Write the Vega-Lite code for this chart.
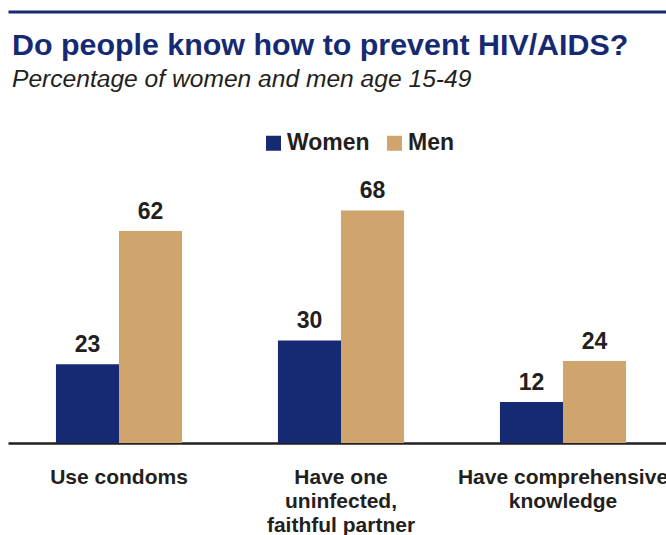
{
  "$schema": "https://vega.github.io/schema/vega-lite/v6.json",
  "autosize": "none",
  "padding": {"left": 8, "top": 11.5, "right": 0, "bottom": 92},
  "width": 666,
  "height": 431.5,
  "background": "white",
  "title": {
    "text": "Do people know how to prevent HIV/AIDS?",
    "subtitle": "Percentage of women and men age 15-49",
    "anchor": "start",
    "frame": "group",
    "orient": "top",
    "offset": -80,
    "dx": 4,
    "font": "Liberation Sans",
    "fontSize": 30.4,
    "fontWeight": "bold",
    "color": "#162a74",
    "subtitleFont": "Liberation Sans",
    "subtitleFontSize": 24.6,
    "subtitleFontStyle": "italic",
    "subtitleColor": "#231f20",
    "subtitlePadding": 7
  },
  "data": {
    "values": [
      {"category": "Use condoms", "sex": "Women", "value": 23},
      {"category": "Use condoms", "sex": "Men", "value": 62},
      {"category": "Have one|uninfected,|faithful partner", "sex": "Women", "value": 30},
      {"category": "Have one|uninfected,|faithful partner", "sex": "Men", "value": 68},
      {"category": "Have comprehensive|knowledge", "sex": "Women", "value": 12},
      {"category": "Have comprehensive|knowledge", "sex": "Men", "value": 24}
    ]
  },
  "encoding": {
    "x": {
      "field": "category",
      "type": "nominal",
      "sort": null,
      "scale": {"paddingInner": 0.432, "paddingOuter": 0.216},
      "axis": {
        "title": null,
        "orient": "bottom",
        "labelAngle": 0,
        "labelExpr": "split(datum.label, '|')",
        "labelFont": "Liberation Sans",
        "labelFontSize": 21,
        "labelFontWeight": "bold",
        "labelColor": "#231f20",
        "labelLineHeight": 24,
        "labelPadding": 23,
        "labelBaseline": "top",
        "ticks": false,
        "tickSize": 0,
        "domain": true,
        "domainColor": "#231f20",
        "domainWidth": 2.5,
        "grid": false,
        "labelLimit": 0
      }
    },
    "xOffset": {"field": "sex", "type": "nominal", "sort": ["Women", "Men"], "scale": {"paddingInner": 0, "paddingOuter": 0}},
    "y": {
      "field": "value",
      "type": "quantitative",
      "scale": {"domain": [0, 126.2], "nice": false, "zero": true},
      "axis": {
        "title": null,
        "values": [126.2],
        "grid": true,
        "gridColor": "#162a74",
        "gridWidth": 3,
        "gridOpacity": 1,
        "labels": false,
        "ticks": false,
        "domain": false
      }
    }
  },
  "layer": [
    {
      "mark": {"type": "bar"},
      "encoding": {
        "color": {
          "field": "sex",
          "type": "nominal",
          "sort": ["Women", "Men"],
          "scale": {"domain": ["Women", "Men"], "range": ["#162a74", "#cfa46d"]},
          "legend": {
            "title": null,
            "orient": "none",
            "direction": "horizontal",
            "legendX": 254,
            "legendY": 120,
            "symbolType": "square",
            "symbolSize": 225,
            "symbolOpacity": 1,
            "symbolStrokeWidth": 0,
            "labelFont": "Liberation Sans",
            "labelFontSize": 23,
            "labelFontWeight": "bold",
            "labelColor": "#231f20",
            "labelOffset": 2,
            "columnPadding": 13,
            "padding": 0
          }
        }
      }
    },
    {
      "mark": {
        "type": "text",
        "baseline": "bottom",
        "dy": -7,
        "font": "Liberation Sans",
        "fontSize": 23,
        "fontWeight": "bold",
        "color": "#231f20"
      },
      "encoding": {"text": {"field": "value", "type": "quantitative"}}
    }
  ],
  "config": {"view": {"stroke": null}}
}
